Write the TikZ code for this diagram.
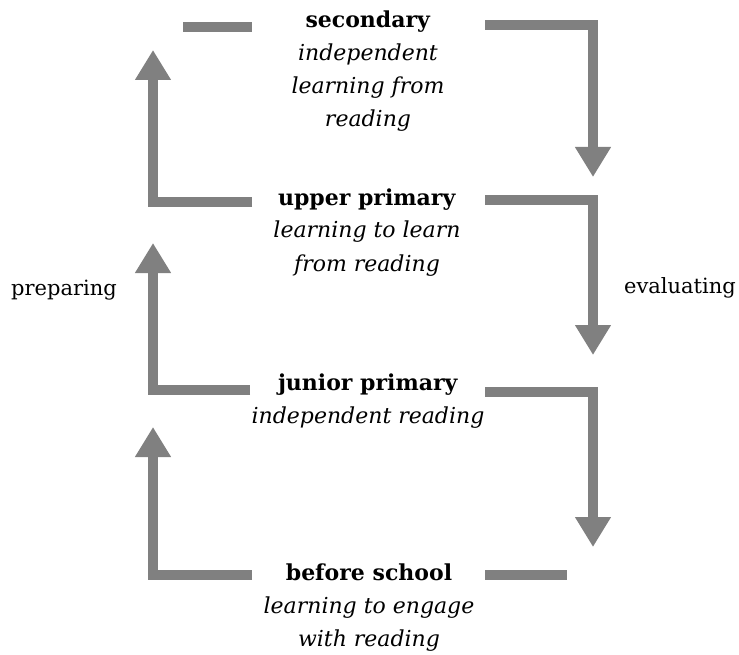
\documentclass[tikz,border=0pt]{standalone}
\usepackage{fontspec}
\setmainfont{DejaVu Serif}
\usetikzlibrary{arrows.meta}
\definecolor{flow}{RGB}{128,128,128}
\begin{document}
\begin{tikzpicture}[x=1pt,y=-1pt,
  stage/.style={align=center, anchor=base, inner sep=0pt,
    font=\fontsize{22}{33}\selectfont},
  side/.style={anchor=base, inner sep=0pt, font=\fontsize{21}{25}\selectfont},
  flowline/.style={draw=flow, line width=10pt, line join=miter},
  flowarrow/.style={flowline, -{Triangle[width=34pt,length=30pt]}}]
\useasboundingbox (0,0) rectangle (739,655);

% stages of reading development (placed by the baseline of their last line)
\node[stage] (sec) at (368,127) {\textbf{secondary}\\\textit{independent}\\\textit{learning from}\\\textit{reading}};
\node[stage] (upp) at (367,271) {\textbf{upper primary}\\\textit{learning to learn}\\\textit{from reading}};
\node[stage] (jun) at (368,423) {\textbf{junior primary}\\\textit{independent reading}};
\node[stage] (bef) at (369,646) {\textbf{before school}\\\textit{learning to engage}\\\textit{with reading}};

% side labels
\node[side] (prep) at (64,295) {preparing};
\node[side] (eval) at (680,293) {evaluating};

% connector end points
\coordinate (secL) at (252,27);   \coordinate (secLs) at (183,27);
\coordinate (secR) at (485,25);   \coordinate (secRc) at (593,25);
\coordinate (uppL) at (252,202);  \coordinate (uppLc) at (153,202);
\coordinate (uppR) at (485,200);  \coordinate (uppRc) at (593,200);
\coordinate (junL) at (250,390);  \coordinate (junLc) at (153,390);
\coordinate (junR) at (485,392);  \coordinate (junRc) at (593,392);
\coordinate (befL) at (252,575);  \coordinate (befLc) at (153,575);
\coordinate (befR) at (485,575);  \coordinate (befRs) at (567,575);

% preparing: rising arrows on the left
\draw[flowline] (secLs) -- (secL);
\draw[flowarrow] (uppL) -- (uppLc) -- (153,50);
\draw[flowarrow] (junL) -- (junLc) -- (153,243);
\draw[flowarrow] (befL) -- (befLc) -- (153,427);

% evaluating: falling arrows on the right
\draw[flowarrow] (secR) -- (secRc) -- (593,177);
\draw[flowarrow] (uppR) -- (uppRc) -- (593,355);
\draw[flowarrow] (junR) -- (junRc) -- (593,547);
\draw[flowline] (befR) -- (befRs);
\end{tikzpicture}
\end{document}
